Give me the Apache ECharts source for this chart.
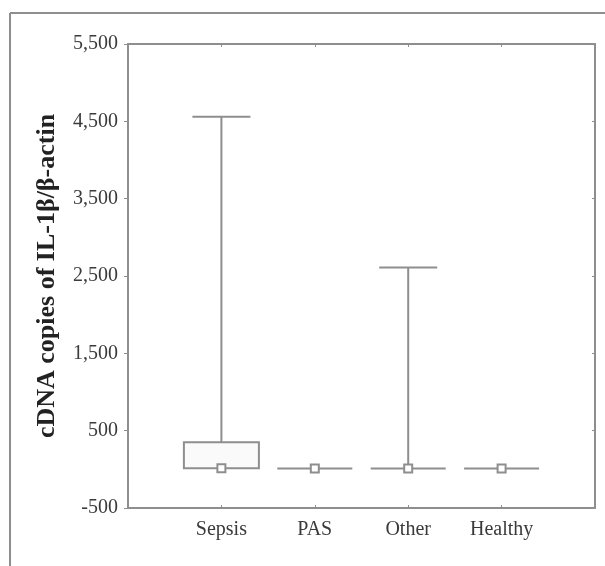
<!DOCTYPE html>
<html lang="en">
<head>
<meta charset="utf-8">
<title>cDNA copies of IL-1β/β-actin</title>
<script src="https://cdn.jsdelivr.net/npm/echarts@6/dist/echarts.min.js"></script>
<style>
  html, body { margin: 0; padding: 0; background: #fff; }
  #main { width: 605px; height: 566px; }
</style>
</head>
<body>
<div id="main"></div>
<script type="text/javascript">
// groups on the x axis
var categories = ['Sepsis', 'PAS', 'Other', 'Healthy'];
// median / quartile / range values
var minVals    = [15, 10, 10, 10];
var q1Vals     = [15, 10, 10, 10];
var medianVals = [15, 10, 10, 10];
var q3Vals     = [350, 10, 10, 10];
var maxVals    = [4560, 10, 2610, 10];
// y tick labels
var yTicks = [-500, 500, 1500, 2500, 3500, 4500, 5500];

var LINE = '#8e8e8e';
var TEXT = '#3a3a3a';
var FONT = '"Liberation Serif", "DejaVu Serif", serif';

// padded so the groups sit at 1..4 on a 0..5 axis
var axisCats = [''].concat(categories).concat(['']);

var data = [];
for (var i = 0; i < categories.length; i++) {
    data.push([i + 1, minVals[i], q1Vals[i], medianVals[i], q3Vals[i], maxVals[i]]);
}

function renderItem(params, api) {
    var idx = api.value(0);
    var x = api.coord([idx, 0])[0];
    var yMin = api.coord([idx, api.value(1)])[1];
    var yQ1 = api.coord([idx, api.value(2)])[1];
    var yMed = api.coord([idx, api.value(3)])[1];
    var yQ3 = api.coord([idx, api.value(4)])[1];
    var yMax = api.coord([idx, api.value(5)])[1];
    var boxHalf = 37.5, capHalf = 29, sq = 8;
    var st = { stroke: LINE, lineWidth: 2, fill: null };
    var ch = [];
    if (yMax < yQ3 - 0.5) {
        ch.push({ type: 'line', shape: { x1: x, y1: yQ3, x2: x, y2: yMax }, style: st });
        ch.push({ type: 'line', shape: { x1: x - capHalf, y1: yMax, x2: x + capHalf, y2: yMax }, style: st });
    }
    if (yMin > yQ1 + 0.5) {
        ch.push({ type: 'line', shape: { x1: x, y1: yQ1, x2: x, y2: yMin }, style: st });
        ch.push({ type: 'line', shape: { x1: x - capHalf, y1: yMin, x2: x + capHalf, y2: yMin }, style: st });
    }
    if (yQ1 - yQ3 > 1) {
        ch.push({ type: 'rect', shape: { x: x - boxHalf, y: yQ3, width: boxHalf * 2, height: yQ1 - yQ3 },
            style: { stroke: LINE, lineWidth: 2, fill: '#fafafa' } });
    } else {
        ch.push({ type: 'line', shape: { x1: x - boxHalf, y1: yQ1, x2: x + boxHalf, y2: yQ1 }, style: st });
    }
    ch.push({ type: 'rect', shape: { x: x - sq / 2, y: yMed - sq / 2, width: sq, height: sq },
        style: { stroke: LINE, lineWidth: 2, fill: '#fff' } });
    return { type: 'group', children: ch };
}

var chart = echarts.init(document.getElementById('main'));

var option = {
    backgroundColor: '#fff',
    animation: false,
    graphic: [
        { type: 'line', shape: { x1: 10, y1: 13, x2: 10, y2: 566 }, style: { stroke: LINE, lineWidth: 2 } },
        { type: 'line', shape: { x1: 10, y1: 13, x2: 605, y2: 13 }, style: { stroke: LINE, lineWidth: 2 } }
    ],
    grid: { left: 128, right: 10, top: 44, bottom: 58 },
    xAxis: [{
        type: 'category',
        data: axisCats,
        boundaryGap: false,
        axisLine: { onZero: false, lineStyle: { color: LINE, width: 2 } },
        axisTick: { inside: true, length: 3, lineStyle: { color: LINE } },
        axisLabel: { color: TEXT, fontFamily: FONT, fontSize: 20, margin: 12, interval: 0 },
        splitLine: { show: false }
    }, {
        type: 'category',
        position: 'top',
        data: axisCats,
        boundaryGap: false,
        axisLine: { onZero: false, lineStyle: { color: LINE, width: 2 } },
        axisTick: { inside: true, length: 3, lineStyle: { color: LINE } },
        axisLabel: { show: false },
        splitLine: { show: false }
    }],
    yAxis: [{
        type: 'value',
        min: -500,
        max: 5500,
        interval: 1000,
        name: 'cDNA copies of IL-1β/β-actin',
        nameLocation: 'middle',
        nameGap: 68,
        nameTextStyle: { color: '#222', fontFamily: FONT, fontSize: 26, fontWeight: 'bold' },
        axisLine: { show: true, onZero: false, lineStyle: { color: LINE, width: 2 } },
        axisTick: { show: true, length: 4, lineStyle: { color: LINE } },
        axisLabel: {
            color: TEXT, fontFamily: FONT, fontSize: 20, margin: 10,
            formatter: function (v) {
                return yTicks.indexOf(v) >= 0 ? v.toLocaleString('en-US') : '';
            }
        },
        splitLine: { show: false }
    }, {
        type: 'value',
        position: 'right',
        min: -500,
        max: 5500,
        interval: 1000,
        axisLine: { show: true, onZero: false, lineStyle: { color: LINE, width: 2 } },
        axisTick: { show: true, inside: true, length: 3, lineStyle: { color: LINE } },
        axisLabel: { show: false },
        splitLine: { show: false }
    }],
    series: [{
        type: 'custom',
        renderItem: renderItem,
        data: data,
        encode: { x: 0, y: [1, 2, 3, 4, 5] },
        clip: false
    }]
};

chart.setOption(option);
</script>
</body>
</html>
